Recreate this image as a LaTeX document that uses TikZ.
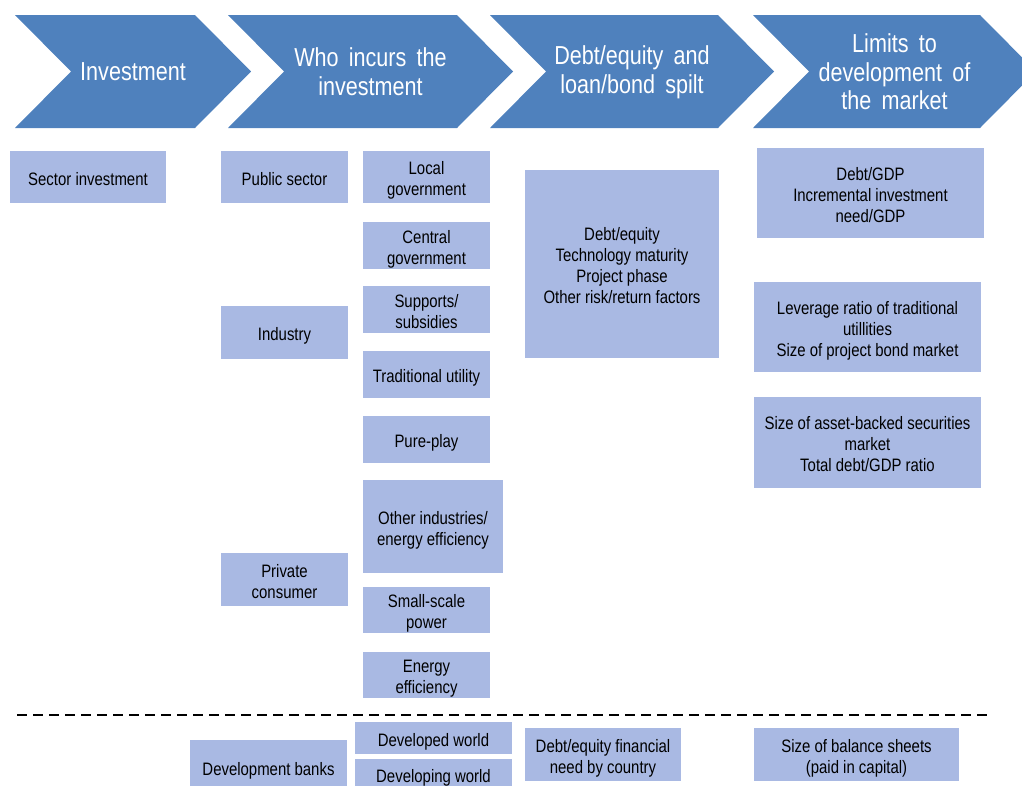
\documentclass[tikz,border=0pt]{standalone}
\usepackage{tikz}
\usepackage{fontspec}
\setmainfont{Liberation Sans}[FakeStretch=0.83]
\newfontfamily\headfont{Liberation Sans}[FakeStretch=0.83,WordSpace=1.7]
\definecolor{chevblue}{RGB}{79,129,189}
\definecolor{boxblue}{RGB}{169,185,227}
% centred lines, set a little low in the box
\newcommand\boxlines[1]{\raisebox{-3pt}[\height][\depth]{\begin{tabular}{@{}c@{}}#1\end{tabular}}}

\begin{document}
\begin{tikzpicture}[x=0.75pt,y=-0.75pt,
    chevron/.style={fill=chevblue,draw=none},
    head/.style={text=white,align=center,inner sep=0pt,font=\headfont\fontsize{19.5}{21.5}\selectfont},
    item/.style 2 args={fill=boxblue,inner sep=0pt,
        minimum width=#1*0.75pt,minimum height=#2*0.75pt,
        font=\fontsize{13.5}{15.75}\selectfont}]
    \path[use as bounding box,clip] (0,0) rectangle (1022,786);

    % stage chevrons
    \foreach \l/\w/\n/\t in {15/180/inv/Investment,
        228/229/who/{Who incurs the\\investment},
        490/228/split/{Debt/equity and\\loan/bond spilt},
        753/227/lim/{Limits to\\development of\\the market}} {
        \fill[chevron] (\l,15) -- ++(\w,0) -- ++(56,56.5) -- ++(-56,56.5)
            -- ++(-\w,0) -- ++(56,-56.5) -- cycle;
        \node[head] (\n) at (\l+\w/2+28,72) {\t};
    }

    % investment / who
    \node[item={156}{52}] (sector) at (88,177) {\boxlines{Sector investment}};
    \node[item={127}{52}] (public) at (284.5,177) {\boxlines{Public sector}};
    \node[item={127}{53}] (industry) at (284.5,332.5) {\boxlines{Industry}};
    \node[item={127}{53}] (private) at (284.5,579.5) {\boxlines{Private\\consumer}};
    \node[item={127}{52}] (local) at (426.5,177) {\boxlines{Local\\government}};
    \node[item={127}{47}] (central) at (426.5,245.5) {\boxlines{Central\\government}};
    \node[item={127}{47}] (supports) at (426.5,309.5) {\boxlines{Supports/\\subsidies}};
    \node[item={127}{47}] (tradutil) at (426.5,374.5) {\boxlines{Traditional utility}};
    \node[item={127}{47}] (pureplay) at (426.5,439.5) {\boxlines{Pure-play}};
    \node[item={140}{93}] (otherind) at (433,526.5) {\boxlines{Other industries/\\energy efficiency}};
    \node[item={127}{46}] (smallscale) at (426.5,610) {\boxlines{Small-scale\\power}};
    \node[item={127}{46}] (energyeff) at (426.5,675) {\boxlines{Energy\\efficiency}};

    % split and limits
    \node[item={194}{188}] (debteq) at (622,264) {\boxlines{Debt/equity\\Technology maturity\\Project phase\\Other risk/return factors}};
    \node[item={227}{90}] (debtgdp) at (870.5,193) {\boxlines{Debt/GDP\\Incremental investment\\need/GDP}};
    \node[item={227}{90}] (leverage) at (867.5,327) {\boxlines{Leverage ratio of traditional\\utillities\\Size of project bond market}};
    \node[item={227}{91}] (absmkt) at (867.5,442.5) {\boxlines{Size of asset-backed securities\\market\\Total debt/GDP ratio}};

    % separator
    \coordinate (sepL) at (17,715);
    \coordinate (sepR) at (990,715);
    \draw[line width=1.5pt,dash pattern=on 7.5pt off 4.5pt] (sepL) -- (sepR);

    % development banks row
    \node[item={157}{54}] (devbanks) at (268.5,767) {\boxlines{Development banks}};
    \node[item={157}{32}] (developed) at (433.5,738) {\boxlines{Developed world}};
    \node[item={157}{30}] (developing) at (433.5,774) {\boxlines{Developing world}};
    \node[item={156}{53}] (finneed) at (603,754.5) {\boxlines{Debt/equity financial\\need by country}};
    \node[item={205}{53}] (balance) at (856.5,754.5) {\boxlines{Size of balance sheets\\(paid in capital)}};
\end{tikzpicture}
\end{document}
